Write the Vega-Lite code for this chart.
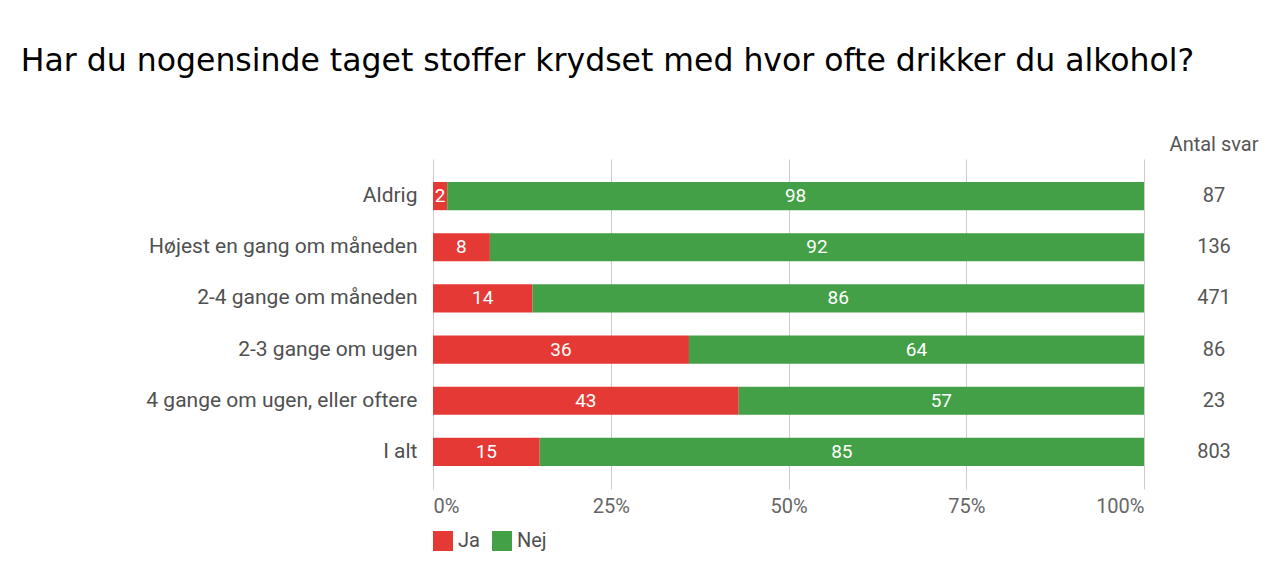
{
  "$schema": "https://vega.github.io/schema/vega-lite/v6.json",
  "background": "white",
  "padding": {"left": 20, "top": 45, "right": 0, "bottom": 24},
  "title": {"text": "Har du nogensinde taget stoffer krydset med hvor ofte drikker du alkohol?", "anchor": "start", "font": "DejaVu Sans", "fontSize": 31.5, "fontWeight": "normal", "color": "#000000", "offset": 58, "dx": -125},
  "datasets": {
    "rows": [
      {"cat": "Aldrig", "resp": "Ja", "pct": 2},
      {"cat": "Aldrig", "resp": "Nej", "pct": 98},
      {"cat": "Højest en gang om måneden", "resp": "Ja", "pct": 8},
      {"cat": "Højest en gang om måneden", "resp": "Nej", "pct": 92},
      {"cat": "2-4 gange om måneden", "resp": "Ja", "pct": 14},
      {"cat": "2-4 gange om måneden", "resp": "Nej", "pct": 86},
      {"cat": "2-3 gange om ugen", "resp": "Ja", "pct": 36},
      {"cat": "2-3 gange om ugen", "resp": "Nej", "pct": 64},
      {"cat": "4 gange om ugen, eller oftere", "resp": "Ja", "pct": 43},
      {"cat": "4 gange om ugen, eller oftere", "resp": "Nej", "pct": 57},
      {"cat": "I alt", "resp": "Ja", "pct": 15},
      {"cat": "I alt", "resp": "Nej", "pct": 85}
    ],
    "totals": [
      {"cat": "Aldrig", "n": 87},
      {"cat": "Højest en gang om måneden", "n": 136},
      {"cat": "2-4 gange om måneden", "n": 471},
      {"cat": "2-3 gange om ugen", "n": 86},
      {"cat": "4 gange om ugen, eller oftere", "n": 23},
      {"cat": "I alt", "n": 803}
    ]
  },
  "spacing": 0,
  "bounds": "flush",
  "hconcat": [
    {
      "width": 711,
      "height": 330,
      "data": {"name": "rows"},
      "transform": [
        {"stack": "pct", "groupby": ["cat"], "sort": [{"field": "resp", "order": "ascending"}], "as": ["x0", "x1"]},
        {"calculate": "(datum.x0 + datum.x1) / 2", "as": "xm"}
      ],
      "encoding": {
        "y": {
          "field": "cat", "type": "nominal",
          "sort": ["Aldrig", "Højest en gang om måneden", "2-4 gange om måneden", "2-3 gange om ugen", "4 gange om ugen, eller oftere", "I alt"],
          "scale": {"type": "band", "paddingInner": 0.45, "paddingOuter": 0.45},
          "axis": {"title": null, "domain": false, "ticks": false, "grid": false, "labelFontSize": 21, "labelColor": "#505050", "labelFont": "Roboto", "labelPadding": 16, "labelLimit": 0}
        }
      },
      "layer": [
        {
          "mark": {"type": "bar"},
          "encoding": {
            "x": {"field": "x0", "type": "quantitative", "scale": {"domain": [0, 100]},
              "axis": {"title": null, "values": [0, 25, 50, 75, 100], "labelExpr": "datum.value + '%'", "domain": false, "ticks": false, "grid": true, "gridColor": "#cccccc", "labelFontSize": 20, "labelColor": "#666666", "labelFont": "Roboto", "labelPadding": 7, "labelFlush": true}},
            "x2": {"field": "x1"},
            "color": {
              "field": "resp", "type": "nominal",
              "scale": {"domain": ["Ja", "Nej"], "range": ["#e53935", "#43a047"]},
              "legend": {"orient": "bottom", "direction": "horizontal", "title": null, "symbolType": "square", "symbolSize": 400, "symbolStrokeWidth": 0, "symbolOpacity": 1, "labelFontSize": 20, "labelColor": "#505050", "labelFont": "Roboto", "offset": 15, "columnPadding": 12, "labelOffset": 5}
            }
          }
        },
        {
          "mark": {"type": "text", "color": "white", "fontSize": 19, "font": "Roboto"},
          "encoding": {
            "x": {"field": "xm", "type": "quantitative"},
            "text": {"field": "pct", "type": "quantitative"}
          }
        }
      ]
    },
    {
      "width": 140,
      "height": 330,
      "data": {"name": "totals"},
      "title": {"text": "Antal svar", "fontSize": 20, "fontWeight": "normal", "font": "Roboto", "color": "#555555", "anchor": "middle", "offset": 4},
      "mark": {"type": "text", "fontSize": 20, "font": "Roboto", "color": "#555555"},
      "encoding": {
        "y": {
          "field": "cat", "type": "nominal",
          "sort": ["Aldrig", "Højest en gang om måneden", "2-4 gange om måneden", "2-3 gange om ugen", "4 gange om ugen, eller oftere", "I alt"],
          "scale": {"type": "band", "paddingInner": 0.45, "paddingOuter": 0.45},
          "axis": null
        },
        "text": {"field": "n", "type": "quantitative"}
      }
    }
  ],
  "config": {"view": {"stroke": null}, "font": "Roboto"}
}
